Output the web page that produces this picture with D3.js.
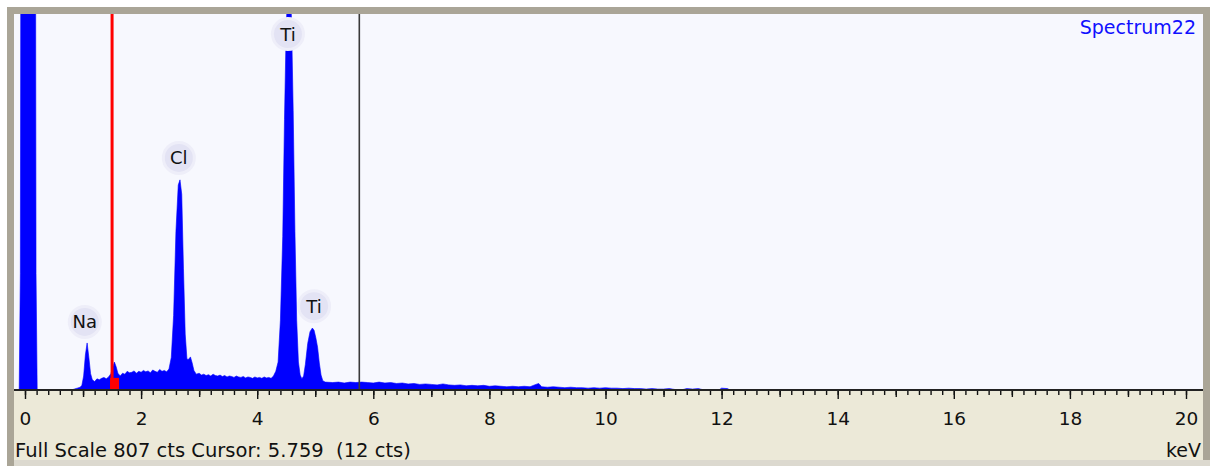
<!DOCTYPE html>
<html>
<head>
<meta charset="utf-8">
<script src="https://cdn.jsdelivr.net/npm/d3@7"></script>
<style>
  html, body { margin: 0; padding: 0; background: #ffffff; }
  svg { display: block; font-family: "DejaVu Sans", Verdana, sans-serif; }
</style>
</head>
<body>
<svg id="chart" width="1210" height="466"></svg>
<script>
// spectrum points (energy in keV, counts)
var spectrumKeV = [
  -0.1, -0.08, -0.05, 0.16, 0.19, 0.21,
  0.8, 0.85, 0.9, 0.95, 0.98, 1.01, 1.04, 1.07, 1.1, 1.13, 1.16, 1.2, 1.24, 1.28, 1.32, 1.36, 1.4, 1.44,
  1.48, 1.51, 1.54, 1.57, 1.6, 1.64, 1.68, 1.72, 1.76, 1.8, 1.84, 1.88, 1.92, 1.96, 2.0, 2.04, 2.08,
  2.12, 2.16, 2.2, 2.24, 2.28, 2.32, 2.36, 2.4, 2.44, 2.48,
  2.52, 2.56, 2.6, 2.64, 2.67, 2.7, 2.73, 2.76, 2.79, 2.82, 2.85, 2.88, 2.91, 2.95, 3.0, 3.04,
  3.08, 3.12, 3.16, 3.2, 3.24, 3.28, 3.32, 3.36, 3.4, 3.44, 3.48, 3.52, 3.56, 3.6, 3.64, 3.68, 3.72,
  3.76, 3.8, 3.84, 3.88, 3.92, 3.96, 4.0, 4.04, 4.08, 4.12, 4.16, 4.2, 4.24, 4.28, 4.32,
  4.36, 4.4, 4.44, 4.47, 4.5, 4.53, 4.56, 4.59, 4.62, 4.65, 4.68, 4.71, 4.74, 4.77, 4.8, 4.83, 4.87,
  4.91, 4.95, 4.98, 5.01, 5.04, 5.07, 5.1, 5.13, 5.17,
  5.3, 5.4, 5.5, 5.6, 5.7, 5.8, 5.9, 6.0, 6.1, 6.2, 6.3, 6.4, 6.5, 6.6, 6.7, 6.8, 6.9, 7.0, 7.1,
  7.2, 7.3, 7.4, 7.5, 7.6, 7.7, 7.8, 7.9, 8.0, 8.1, 8.2, 8.3, 8.4, 8.5, 8.6, 8.7, 8.8, 8.85, 8.9,
  9.0, 9.1, 9.2, 9.3, 9.4, 9.5, 9.6, 9.7, 9.8, 9.9, 10.0, 10.1, 10.2, 10.3, 10.4, 10.5, 10.6, 10.7,
  10.8, 10.9, 11.0, 11.1, 11.2, 11.3, 11.4, 11.5, 11.6, 11.7, 11.95, 12.0, 12.1, 12.15, 20.3
];
var spectrumCts = [
  0, 250, 3000, 3000, 250, 0,
  0, 2, 4, 6, 10, 30, 75, 101, 70, 35, 22, 18, 24, 22, 25, 27, 24, 28,
  35, 48, 60, 50, 36, 30, 36, 34, 40, 37, 38, 41, 36, 40, 38, 42, 39,
  41, 37, 43, 40, 38, 44, 40, 42, 39, 45,
  70, 160, 340, 440, 451, 420, 260, 120, 66, 66, 71, 58, 42, 34, 36, 32,
  34, 31, 33, 30, 34, 31, 30, 32, 29, 31, 28, 30, 29, 27, 30, 28, 27,
  29, 26, 28, 27, 25, 28, 26, 27, 25, 28, 26, 27, 25, 30, 40,
  60, 150, 330, 580, 780, 870, 880, 800, 600, 340, 150, 60, 32, 24, 30, 55, 100,
  125, 133, 128, 112, 92, 58, 32, 20, 17,
  16, 17, 15, 17, 16, 17, 16, 15, 17, 15, 16, 14, 15, 13, 14, 12, 13, 12, 11,
  13, 11, 10, 11, 9, 10, 9, 10, 8, 9, 8, 7, 8, 7, 8, 7, 12, 14, 7,
  6, 7, 6, 5, 6, 5, 5, 4, 5, 4, 5, 4, 4, 3, 4, 3, 3, 2,
  3, 2, 2, 3, 1, 0, 3, 2, 3, 0, 0, 4, 3, 0, 0
];

var peakNames = ['Na', 'Cl', 'Ti', 'Ti'];
var peakLabelKeV = [1.03, 2.65, 4.53, 4.98];
var peakLabelCts = [146, 498, 764, 180];

var majorTicks = [0, 2, 4, 6, 8, 10, 12, 14, 16, 18, 20];
var fullScale = 807;
var cursorKeV = 5.759;
var cursorCts = 12;
var markerKeV = 1.5;
var roiKeV = [1.465, 1.62];
var roiCts = 26;
var spectrumName = 'Spectrum22';

var svg = d3.select('#chart');

// frame, plot area, bottom panel
svg.append('rect').attr('x', 7).attr('y', 7).attr('width', 1203).attr('height', 459)
    .attr('fill', '#aaa597');
svg.append('rect').attr('x', 14).attr('y', 460).attr('width', 1196).attr('height', 6)
    .attr('fill', '#dcd9cf');
svg.append('rect').attr('x', 14).attr('y', 14).attr('width', 1189).attr('height', 376)
    .attr('fill', '#f7f8fe');
svg.append('rect').attr('x', 14).attr('y', 390).attr('width', 1189).attr('height', 70)
    .attr('fill', '#ece9d8');

var x = d3.scaleLinear().domain([0, 20]).range([25, 1186]);
var y = d3.scaleLinear().domain([0, fullScale]).range([390, 14]);

svg.append('clipPath').attr('id', 'plotClip')
  .append('rect').attr('x', 14).attr('y', 14).attr('width', 1189).attr('height', 376);

var plot = svg.append('g').attr('clip-path', 'url(#plotClip)');

var points = spectrumKeV.map(function (k, i) { return [k, spectrumCts[i]]; });

var area = d3.area()
    .x(function (d) { return x(d[0]); })
    .y0(y(0))
    .y1(function (d) { return y(d[1]); });

plot.append('path')
    .datum(points)
    .attr('d', area)
    .attr('fill', '#0000ff')
    .attr('stroke', '#0000ff')
    .attr('stroke-width', 0.6);

// region of interest fill + marker line
plot.append('rect')
    .attr('x', x(roiKeV[0]))
    .attr('y', y(roiCts))
    .attr('width', x(roiKeV[1]) - x(roiKeV[0]))
    .attr('height', y(0) - y(roiCts))
    .attr('fill', '#ff0000');
plot.append('line')
    .attr('x1', x(markerKeV)).attr('x2', x(markerKeV))
    .attr('y1', 14).attr('y2', 390)
    .attr('stroke', '#ff0000').attr('stroke-width', 3);

// cursor
plot.append('line')
    .attr('x1', x(cursorKeV)).attr('x2', x(cursorKeV))
    .attr('y1', 14).attr('y2', 390)
    .attr('stroke', '#3a3a3a').attr('stroke-width', 1.6);

// peak labels
var labels = plot.selectAll('g.peak')
    .data(peakNames)
    .enter().append('g')
    .attr('class', 'peak')
    .attr('transform', function (d, i) {
        return 'translate(' + x(peakLabelKeV[i]) + ',' + y(peakLabelCts[i]) + ')';
    });
labels.append('circle')
    .attr('r', 15.5)
    .attr('fill', '#e3e3f4')
    .attr('stroke', '#eeeef9')
    .attr('stroke-width', 3);
labels.append('text')
    .attr('text-anchor', 'middle')
    .attr('dy', '0.36em')
    .attr('font-size', 18)
    .attr('fill', '#111')
    .text(function (d) { return d; });

// x axis
var axisG = svg.append('g').attr('transform', 'translate(0,390)');

axisG.append('g')
    .call(d3.axisBottom(x)
        .tickValues(d3.range(0, 101).map(function (i) { return i * 0.2; }))
        .tickSize(5).tickFormat(''))
    .call(function (g) { g.select('.domain').remove(); });

axisG.append('g')
    .call(d3.axisBottom(x)
        .tickValues([1, 3, 5, 7, 9, 11, 13, 15, 17, 19])
        .tickSize(7).tickFormat(''))
    .call(function (g) { g.select('.domain').remove(); });

axisG.append('g')
    .call(d3.axisBottom(x)
        .tickValues(majorTicks)
        .tickSize(9).tickPadding(13)
        .tickFormat(d3.format('d')))
    .call(function (g) {
        g.select('.domain').remove();
        g.selectAll('text')
            .attr('font-family', '"DejaVu Sans", Verdana, sans-serif')
            .attr('font-size', 18.5)
            .attr('fill', '#111');
    });

axisG.selectAll('.tick line').attr('stroke', '#111').attr('stroke-width', 1.4);

axisG.append('line')
    .attr('x1', 14).attr('x2', 1203)
    .attr('y1', 0).attr('y2', 0)
    .attr('stroke', '#222').attr('stroke-width', 2);

// texts
svg.append('text')
    .attr('x', 1196).attr('y', 34)
    .attr('text-anchor', 'end')
    .attr('font-size', 19)
    .attr('fill', '#1010ff')
    .text(spectrumName);

svg.append('text')
    .attr('x', 15).attr('y', 457)
    .attr('font-size', 19.5)
    .attr('fill', '#111')
    .attr('xml:space', 'preserve')
    .style('white-space', 'pre')
    .text('Full Scale ' + fullScale + ' cts Cursor: ' + cursorKeV + '  (' + cursorCts + ' cts)');

svg.append('text')
    .attr('x', 1201).attr('y', 457)
    .attr('text-anchor', 'end')
    .attr('font-size', 19)
    .attr('fill', '#111')
    .text('keV');
</script>
</body>
</html>
